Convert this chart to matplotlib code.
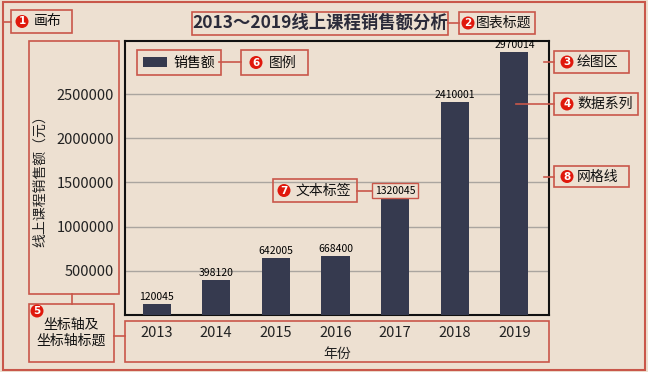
import matplotlib
matplotlib.use("Agg")
import matplotlib.pyplot as plt
from matplotlib.patches import Rectangle, Ellipse
from matplotlib.lines import Line2D

plt.rcParams["font.family"] = ["Noto Sans CJK SC", "DejaVu Sans"]
plt.rcParams["axes.unicode_minus"] = False

# data
years = ["2013", "2014", "2015", "2016", "2017", "2018", "2019"]
sales = [120045, 398120, 642005, 668400, 1320045, 2410001, 2970014]
yticks = [500000, 1000000, 1500000, 2000000, 2500000]
title = "2013～2019线上课程销售额分析"

BG = "#ede0d1"
RED = "#c9574a"
DOT = "#e0180c"
BAR = "#363a4f"
W, H = 648, 372


def fx(x):
    return x / W


def fy(y):
    return 1 - y / H


fig = plt.figure(figsize=(6.48, 3.72), dpi=100, facecolor=BG)
ax = fig.add_axes([fx(125), fy(315), 424 / W, 274 / H])
ax.set_facecolor(BG)

x = list(range(len(years)))
ax.bar(x, sales, width=0.47, color=BAR, label="销售额", zorder=3)
for i, v in enumerate(sales):
    if i == 4:
        ax.text(i, v + 30000, f"{v}", ha="center", va="bottom", fontsize=7.5,
                bbox=dict(boxstyle="square,pad=0.25", fc=BG, ec=RED, lw=1.0))
    else:
        ax.text(i, v + 25000, f"{v}", ha="center", va="bottom", fontsize=7.5)

ax.set_xlim(-0.53, 6.58)
ax.set_ylim(0, 3100000)
ax.set_xticks(x)
ax.set_xticklabels(years)
ax.set_yticks(yticks)
ax.yaxis.set_major_formatter("{x:.0f}")
ax.tick_params(length=0, labelsize=10.5, colors="#222222")
ax.tick_params(axis="y", pad=8)
ax.tick_params(axis="x", pad=8)
ax.grid(axis="y", color="#aaa59f", lw=1.0)
ax.set_axisbelow(True)
for s in ax.spines.values():
    s.set_linewidth(1.5)
    s.set_color("#111111")

ax.set_ylabel("线上课程销售额（元）", fontsize=10, color="#222222")
ax.yaxis.set_label_coords(-0.184, 0.5)
ax.set_xlabel("年份", fontsize=10, color="#222222")
ax.xaxis.set_label_coords(0.5, -0.115)

leg = ax.legend(loc="upper left", bbox_to_anchor=(fx(137), fy(50)),
                bbox_transform=fig.transFigure, borderaxespad=0, fontsize=10,
                frameon=True, fancybox=False, framealpha=1, facecolor=BG,
                edgecolor=RED, handlelength=1.75, handleheight=0.7,
                handletextpad=0.5, borderpad=0.4)
leg.get_frame().set_linewidth(1.2)

fig.text(fx(320), fy(23), title, ha="center", va="center", fontsize=12.5,
         fontweight="bold", color="#2b2b3a")


def box(x0, y0, x1, y1, lw=1.2):
    fig.add_artist(Rectangle((fx(x0), fy(y1)), (x1 - x0) / W, (y1 - y0) / H,
                             transform=fig.transFigure, fill=False, ec=RED, lw=lw))


def line(x0, y0, x1, y1):
    fig.add_artist(Line2D([fx(x0), fx(x1)], [fy(y0), fy(y1)],
                          transform=fig.transFigure, color=RED, lw=1.2))


def dot(cx, cy, n):
    fig.add_artist(Ellipse((fx(cx), fy(cy)), 13 / W, 13 / H,
                           transform=fig.transFigure, fc=DOT, ec="none"))
    fig.text(fx(cx), fy(cy), str(n), ha="center", va="center", fontsize=7.5,
             fontweight="bold", color="white", family="DejaVu Sans")


def tag(x0, y0, x1, y1, n, cx, label, tx):
    box(x0, y0, x1, y1)
    cy = (y0 + y1) / 2
    dot(cx, cy, n)
    fig.text(fx(tx), fy(cy), label, ha="left", va="center", fontsize=10,
             fontweight="medium", color="#111111")


# canvas frame
box(3, 2, 645, 370, lw=1.5)

tag(11, 10, 72, 33, 1, 22, "画布", 34)
line(3, 21.5, 11, 21.5)

box(192, 12, 448, 35)
tag(459, 12, 535, 34, 2, 468, "图表标题", 476)
line(448, 23, 459, 23)

tag(554, 51, 629, 73, 3, 567, "绘图区", 577)
line(544, 62, 554, 62)

tag(554, 93, 638, 115, 4, 567, "数据系列", 577)
line(516, 104, 554, 104)

tag(554, 166, 629, 187, 8, 567, "网格线", 577)
line(544, 177, 554, 177)

tag(241, 50, 308, 75, 6, 256, "图例", 269)
line(219, 62, 241, 62)

tag(273, 179, 357, 202, 7, 284, "文本标签", 296)
line(357, 190.5, 372, 190.5)

# axis boxes
box(29, 41, 119, 294)
box(125, 321, 549, 362)
box(29, 304, 114, 362)
line(72, 294, 72, 304)
line(114, 336, 125, 336)
dot(37, 311, 5)
fig.text(fx(71.5), fy(333), "坐标轴及\n坐标轴标题", ha="center", va="center",
         fontsize=10, fontweight="medium", linespacing=1.2, color="#111111")

fig.savefig("out.png", dpi=100, facecolor=BG)
